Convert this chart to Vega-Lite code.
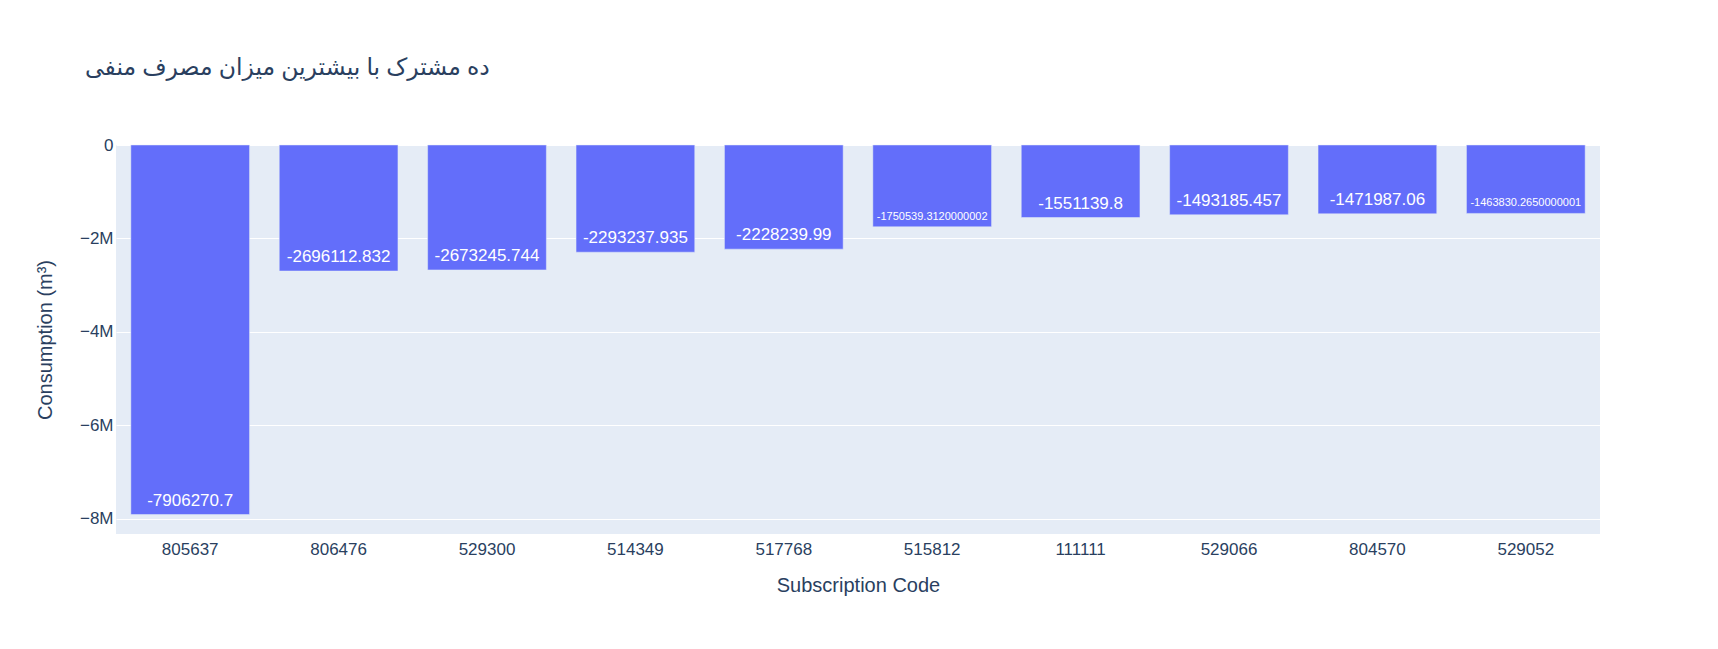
{
  "$schema": "https://vega.github.io/schema/vega-lite/v6.json",
  "width": 1484,
  "height": 389,
  "autosize": {"type": "none"},
  "padding": {"left": 116, "top": 145, "right": 118, "bottom": 115},
  "background": "white",
  "title": {
    "text": "ده مشترک با بیشترین میزان مصرف منفی",
    "anchor": "start",
    "frame": "group",
    "dx": -31,
    "offset": 33,
    "baseline": "bottom",
    "fontSize": 23.5,
    "fontWeight": "normal",
    "font": "Open Sans, DejaVu Sans, sans-serif",
    "color": "#2a3f5f"
  },
  "data": {
    "values": [
      {"code": "805637", "value": -7906270.7},
      {"code": "806476", "value": -2696112.832},
      {"code": "529300", "value": -2673245.744},
      {"code": "514349", "value": -2293237.935},
      {"code": "517768", "value": -2228239.99},
      {"code": "515812", "value": -1750539.3120000002},
      {"code": "111111", "value": -1551139.8},
      {"code": "529066", "value": -1493185.457},
      {"code": "804570", "value": -1471987.06},
      {"code": "529052", "value": -1463830.2650000001}
    ]
  },
  "encoding": {
    "x": {
      "field": "code",
      "type": "nominal",
      "sort": null,
      "scale": {"paddingInner": 0.2, "paddingOuter": 0.1},
      "axis": {
        "title": "Subscription Code",
        "labelAngle": 0,
        "labelPadding": 7,
        "titlePadding": 18,
        "ticks": false,
        "domain": false,
        "grid": false
      }
    },
    "y": {
      "field": "value",
      "type": "quantitative",
      "scale": {"domain": [-8322390, 0], "nice": false, "zero": false},
      "axis": {
        "title": "Consumption (m³)",
        "values": [0, -2000000, -4000000, -6000000, -8000000],
        "labelExpr": "datum.value === 0 ? '0' : format(datum.value, '~s')",
        "labelPadding": 3,
        "titlePadding": 24,
        "ticks": false,
        "domain": false,
        "grid": true,
        "gridColor": "white",
        "gridWidth": 1
      }
    }
  },
  "layer": [
    {
      "mark": {"type": "bar", "color": "#636efa", "stroke": "#E5ECF6", "strokeWidth": 0.5}
    },
    {
      "mark": {
        "type": "text",
        "color": "white",
        "baseline": "bottom",
        "dy": -5,
        "font": "Liberation Sans, Arial, sans-serif"
      },
      "encoding": {
        "text": {"field": "value", "type": "nominal"},
        "size": {
          "condition": {"test": "length(toString(datum.value)) > 12", "value": 11},
          "value": 17
        }
      }
    }
  ],
  "config": {
    "view": {"fill": "#E5ECF6", "stroke": null},
    "axis": {
      "labelFont": "Liberation Sans, Arial, sans-serif",
      "labelFontSize": 17,
      "labelColor": "#2a3f5f",
      "titleFont": "Liberation Sans, Arial, sans-serif",
      "titleFontSize": 20,
      "titleFontWeight": "normal",
      "titleColor": "#2a3f5f"
    }
  }
}
